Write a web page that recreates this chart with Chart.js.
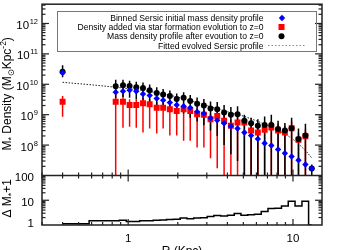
<!DOCTYPE html>
<html>
<head>
<meta charset="utf-8">
<script src="https://cdn.jsdelivr.net/npm/chart.js@4/dist/chart.umd.min.js"></script>
<style>
  html, body { margin: 0; padding: 0; background: #fff; }
  #wrap { width: 350px; height: 250px; }
</style>
</head>
<body>
<div id="wrap"><canvas id="densityChart" width="350" height="250"></canvas></div>
<script>
// bin radii (Kpc)
const radius = [0.40, 0.84, 0.93, 1.02, 1.12, 1.23, 1.35, 1.49, 1.63, 1.79, 1.97, 2.17, 2.38, 2.62, 2.88, 3.16,
    3.47, 3.82, 4.20, 4.61, 5.07, 5.57, 6.12, 6.73, 7.39, 8.12, 8.93, 9.81, 10.8, 11.9, 13.0];

// binned Sersic initial mass density (blue)
const initialDensity = [2.4e10, 5.5e9, 5.9e9, 6.4e9, 5.9e9, 4.8e9, 4.3e9, 3.4e9, 3.0e9, 2.5e9, 2.1e9, 1.9e9,
    1.7e9, 1.26e9, 1.09e9, 7.8e8, 6.5e8, 5.2e8, 4.2e8, 3.5e8, 2.6e8, 2.05e8, 1.6e8, 1.15e8, 9.7e7, 7.2e7,
    5.4e7, 4.2e7, 3.2e7, 2.3e7, 1.7e7];

// density added via star formation (red) + error range
const addedDensity = [2.66e9, 2.66e9, 2.66e9, 2.08e9, 2.08e9, 2.36e9, 2.19e9, 1.7e9, 1.7e9, 1.51e9, 1.33e9,
    1.51e9, 1.33e9, 1.04e9, 9.9e8, 7.1e8, 9.1e8, 6.3e8, 4.3e8, 5.5e8, 5.5e8, 3.0e8, 2.6e8, 3.2e8, 3.8e8,
    3.0e8, 2.6e8, 3.6e8, 1.5e8, 1.95e8, null];
const addedHigh = [4.1e9, 6.9e9, 6.9e9, 3.2e9, 3.2e9, 3.6e9, 3.3e9, 2.6e9, 2.6e9, 2.3e9, 2.0e9, 2.3e9, 2.0e9,
    1.6e9, 1.5e9, 1.1e9, 1.4e9, 1.0e9, 7e8, 8.5e8, 8.5e8, 5e8, 4.3e8, 5.2e8, 6.2e8, 5e8, 4.3e8, 6e8, 2.6e8,
    3.3e8, null];
const addedLow = [8.5e8, 1e7, 3.7e8, 4.0e8, 3.7e8, 2.6e8, 3.5e8, 2.4e8, 3.5e8, 2.05e8, 2.05e8, 1.4e8, 1.4e8,
    8.4e7, 8.4e7, 3.7e7, 1.74e7, 1e7, 1e7, 1e7, 1e7, 1e7, 1e7, 1e7, 1e7, 1e7, 1e7, 1e7, 1e7, 1e7, null];

// mass density after evolution to z=0 (black) + error range
const finalDensity = [2.6e10, 8.6e9, 9.3e9, 8.8e9, 8.0e9, 7.6e9, 6.4e9, 5.2e9, 4.6e9, 4.1e9, 3.3e9, 3.6e9,
    2.8e9, 2.3e9, 2.0e9, 1.6e9, 1.5e9, 1.17e9, 9.9e8, 1.04e9, 6.3e8, 5.2e8, 4.3e8, 4.6e8, 4.6e8, 3.4e8,
    3.0e8, 3.6e8, 1.6e8, 2.05e8, 1.7e7];
const finalHigh = [4.2e10, 1.4e10, 1.4e10, 1.3e10, 1.2e10, 1.15e10, 9.8e9, 8.0e9, 7.0e9, 6.3e9, 5.0e9, 5.5e9,
    4.4e9, 3.7e9, 3.3e9, 2.7e9, 2.6e9, 2.1e9, 1.8e9, 1.9e9, 1.0e9, 8e8, 7.1e8, 8.7e8, 1.0e9, 6.3e8, 5.3e8,
    8e8, 3.5e8, 5e8, 2.3e7];
const finalLow = [1.7e10, 3.5e9, 3.8e9, 3.6e9, 3.2e9, 3.0e9, 2.5e9, 2.0e9, 1.7e9, 1.5e9, 1.1e9, 1.1e9, 8e8,
    6e8, 4.5e8, 3e8, 2e8, 1e8, 5e7, 3e7, 1e7, 1e7, 1e7, 1e7, 1e7, 1e7, 1e7, 1e7, 1e7, 1e7, 1e7];

// fitted evolved Sersic profile (dotted)
const fitRadius = [0.4, 0.6, 0.84, 1.2, 1.6, 2.0, 2.5, 3.0, 3.5, 4.0, 5.0, 6.0, 7.0, 8.0, 9.0, 10, 11, 12, 13];
const fitDensity = [1.16e10, 9.6e9, 8.0e9, 6.4e9, 5.0e9, 3.8e9, 2.7e9, 2.0e9, 1.55e9, 1.25e9, 9.0e8, 6.3e8,
    4.4e8, 3.2e8, 2.3e8, 1.55e8, 1.0e8, 6.3e7, 3.8e7];

// lower panel: delta M* + 1
const deltaMass = [1.13, 1.5, 1.55, 1.4, 1.4, 1.5, 1.5, 1.55, 1.6, 1.65, 1.7, 1.9, 1.8, 1.9, 1.95, 2.2, 2.4,
    2.3, 2.5, 2.9, 2.5, 2.6, 2.7, 3.5, 4.6, 4.8, 5.8, 9.1, 5.8, 9.1, 1.0];

// tick labels
const mainExponents = [8, 9, 10, 11, 12];
const deltaTicks = [1, 10, 100];
const radiusTicks = [1, 10];

const legendLines = [
    "Binned Sersic initial mass density profile",
    "Density added via star formation evolution to z=0",
    "Mass density profile after evoution to z=0",
    "Fitted evolved Sersic profile"
];

// axis ranges and panel split
const radiusMin = 0.3, radiusMax = 15;
const mainMin = 1e7, mainMax = 4.3e12;
const deltaMin = 1, deltaMax = 100;
const mainHeight = 173, deltaHeight = 50;

const lg = Math.log10;
const mainSpan = lg(mainMax) - lg(mainMin);
const yFullMin = Math.pow(10, lg(mainMin) - mainSpan * deltaHeight / mainHeight);
const deltaSpan = lg(deltaMax) - lg(deltaMin);
const ydFullMax = Math.pow(10, lg(deltaMax) + deltaSpan * mainHeight / deltaHeight);

const FONT = "'Liberation Sans', Arial, Helvetica, 'DejaVu Sans', sans-serif";

function points(xs, ys) {
    const out = [];
    xs.forEach((x, i) => { if (ys[i] != null) out.push({ x: x, y: ys[i] }); });
    return out;
}

function errorBars(xs, lo, hi) {
    const out = [];
    xs.forEach((x, i) => {
        if (lo[i] == null) return;
        out.push({ x: x, y: lo[i] }, { x: x, y: hi[i] }, { x: x, y: null });
    });
    return out;
}

// clip every dataset to its own panel
const panelClip = {
    id: "panelClip",
    beforeDatasetDraw(chart, args) {
        const ctx = chart.ctx, a = chart.chartArea;
        const split = chart.scales.y.getPixelForValue(mainMin);
        const ds = chart.data.datasets[args.index];
        ctx.save();
        ctx.beginPath();
        if (ds.yAxisID === "yd") ctx.rect(a.left, split, a.right - a.left, a.bottom - split);
        else ctx.rect(a.left, a.top, a.right - a.left, split - a.top);
        ctx.clip();
    },
    afterDatasetDraw(chart) {
        chart.ctx.restore();
    }
};

function drawRich(ctx, parts, size) {
    // parts: [text, scale, shift]
    let total = 0;
    parts.forEach(p => {
        ctx.font = (size * p[1]) + "px " + FONT;
        total += ctx.measureText(p[0]).width;
    });
    let pos = -total / 2;
    parts.forEach(p => {
        ctx.font = (size * p[1]) + "px " + FONT;
        ctx.fillText(p[0], pos, p[2]);
        pos += ctx.measureText(p[0]).width;
    });
}

// IDL style frame, inward ticks, labels and legend
const frame = {
    id: "frame",
    afterDraw(chart) {
        const ctx = chart.ctx, a = chart.chartArea;
        const xs = chart.scales.x, ys = chart.scales.y, yd = chart.scales.yd;
        const split = ys.getPixelForValue(mainMin);

        function line(x1, y1, x2, y2) {
            ctx.beginPath(); ctx.moveTo(x1, y1); ctx.lineTo(x2, y2); ctx.stroke();
        }

        ctx.save();
        ctx.strokeStyle = "#222";
        ctx.lineWidth = 1.5;
        ctx.strokeRect(a.left, a.top, a.right - a.left, a.bottom - a.top);
        line(a.left, split, a.right, split);

        ctx.lineWidth = 1.2;
        // main panel y ticks
        for (let e = 7; e <= 12; e++) {
            for (let m = 1; m <= 9; m++) {
                const v = m * Math.pow(10, e);
                if (v <= mainMin || v > mainMax) continue;
                const py = ys.getPixelForValue(v);
                const len = m === 1 ? 7 : 3.5;
                line(a.left, py, a.left + len, py);
                line(a.right, py, a.right - len, py);
            }
        }
        // lower panel y ticks
        for (let e = 0; e <= 1; e++) {
            for (let m = 1; m <= 9; m++) {
                const v = m * Math.pow(10, e);
                if (v <= deltaMin) continue;
                const py = yd.getPixelForValue(v);
                const len = m === 1 ? 7 : 3.5;
                line(a.left, py, a.left + len, py);
                line(a.right, py, a.right - len, py);
            }
        }
        // x ticks on both panels
        for (let e = -1; e <= 1; e++) {
            for (let m = 1; m <= 9; m++) {
                const v = m * Math.pow(10, e);
                if (v <= radiusMin || v >= radiusMax) continue;
                const px = xs.getPixelForValue(v);
                const len = m === 1 ? 6 : 3;
                line(px, split, px, split - len);
                line(px, split, px, split + len);
                line(px, a.bottom, px, a.bottom - len);
            }
        }

        ctx.fillStyle = "#000";
        ctx.textBaseline = "alphabetic";
        // main y labels with superscripts
        mainExponents.forEach(e => {
            const py = ys.getPixelForValue(Math.pow(10, e));
            ctx.font = "7.5px " + FONT;
            const sup = String(e);
            const supW = ctx.measureText(sup).width;
            ctx.textAlign = "right";
            ctx.fillText(sup, 38, py + 0.5);
            ctx.font = "11.5px " + FONT;
            ctx.fillText("10", 38 - supW - 0.5, py + 5.5);
        });
        // lower y labels
        ctx.font = "11.5px " + FONT;
        ctx.textAlign = "right";
        deltaTicks.forEach(v => {
            const py = Math.min(yd.getPixelForValue(v) + 1, a.bottom - 3);
            ctx.fillText(String(v), 34, py + 4.5);
        });
        // x labels
        ctx.textAlign = "center";
        radiusTicks.forEach(v => {
            ctx.fillText(String(v), xs.getPixelForValue(v), 241.5);
        });

        // axis titles
        ctx.textAlign = "left";
        ctx.save();
        ctx.translate(11, (a.top + split) / 2 + 4);
        ctx.rotate(-Math.PI / 2);
        drawRich(ctx, [["M", 1, 0], ["*", 0.75, 3], [" Density (M", 1, 0], ["\u2299", 0.7, 3],
            ["Kpc", 1, 0], ["-2", 0.7, -5], [")", 1, 0]], 12);
        ctx.restore();
        ctx.save();
        ctx.translate(11, (split + a.bottom) / 2 - 2);
        ctx.rotate(-Math.PI / 2);
        drawRich(ctx, [["\u0394 M", 1, 0], ["*", 0.75, 3], ["+1", 1, 0]], 12);
        ctx.restore();
        ctx.save();
        ctx.translate((a.left + a.right) / 2, 254.5);
        drawRich(ctx, [["R (Kpc)", 1, 0]], 12);
        ctx.restore();

        // legend
        ctx.strokeStyle = "#777";
        ctx.lineWidth = 1;
        ctx.strokeRect(57.5, 11.5, 259, 40);
        ctx.font = "8.6px " + FONT;
        ctx.textAlign = "right";
        const rows = [18, 27, 36.3, 45.5];
        legendLines.forEach((t, i) => ctx.fillText(t, 263.5, rows[i] + 3));
        ctx.fillStyle = "#0000ff";
        ctx.beginPath();
        ctx.moveTo(282, rows[0] - 3.2); ctx.lineTo(285.2, rows[0]);
        ctx.lineTo(282, rows[0] + 3.2); ctx.lineTo(278.8, rows[0]);
        ctx.closePath(); ctx.fill();
        ctx.fillStyle = "#ff0000";
        ctx.fillRect(278.5, rows[1] - 3, 6, 6);
        ctx.fillStyle = "#000";
        ctx.beginPath(); ctx.arc(281.5, rows[2], 3, 0, Math.PI * 2); ctx.fill();
        ctx.strokeStyle = "#888";
        ctx.setLineDash([1.5, 2]);
        line(268, rows[3], 305, rows[3]);
        ctx.restore();
    }
};

const ctx = document.getElementById("densityChart").getContext("2d");
new Chart(ctx, {
    type: "line",
    data: {
        datasets: [
            {
                label: "initial",
                data: points(radius, initialDensity),
                yAxisID: "y",
                showLine: false,
                pointStyle: "rectRot",
                pointRadius: 3.2,
                pointBackgroundColor: "#0000ff",
                pointBorderWidth: 0
            },
            {
                label: "final",
                data: points(radius, finalDensity),
                yAxisID: "y",
                showLine: false,
                pointStyle: "circle",
                pointRadius: 3,
                pointBackgroundColor: "#000",
                pointBorderWidth: 0
            },
            {
                label: "added",
                data: points(radius, addedDensity),
                yAxisID: "y",
                showLine: false,
                pointStyle: "rect",
                pointRadius: 4.2,
                pointBackgroundColor: "#ff0000",
                pointBorderWidth: 0
            },
            {
                label: "final errors",
                data: errorBars(radius, finalLow, finalHigh),
                yAxisID: "y",
                borderColor: "#000",
                borderWidth: 1.5,
                pointRadius: 0
            },
            {
                label: "added errors",
                data: errorBars(radius, addedLow, addedHigh),
                yAxisID: "y",
                borderColor: "#ff0000",
                borderWidth: 1.5,
                pointRadius: 0
            },
            {
                label: "fit",
                data: points(fitRadius, fitDensity),
                yAxisID: "y",
                borderColor: "#222",
                borderWidth: 1,
                borderDash: [1.5, 1.5],
                pointRadius: 0,
                tension: 0
            },
            {
                label: "delta",
                data: points(radius, deltaMass),
                yAxisID: "yd",
                borderColor: "#000",
                borderWidth: 1.5,
                stepped: "middle",
                pointRadius: 0
            }
        ]
    },
    options: {
        responsive: false,
        animation: false,
        devicePixelRatio: 1,
        layout: { padding: { left: 42, right: 28, top: 2, bottom: 25 } },
        scales: {
            x: { type: "logarithmic", min: radiusMin, max: radiusMax, display: false, bounds: "data" },
            y: { type: "logarithmic", min: yFullMin, max: mainMax, display: false, bounds: "data" },
            yd: { type: "logarithmic", min: deltaMin, max: ydFullMax, display: false, bounds: "data" }
        },
        plugins: {
            legend: { display: false },
            tooltip: { enabled: false }
        }
    },
    plugins: [panelClip, frame]
});
</script>
</body>
</html>
